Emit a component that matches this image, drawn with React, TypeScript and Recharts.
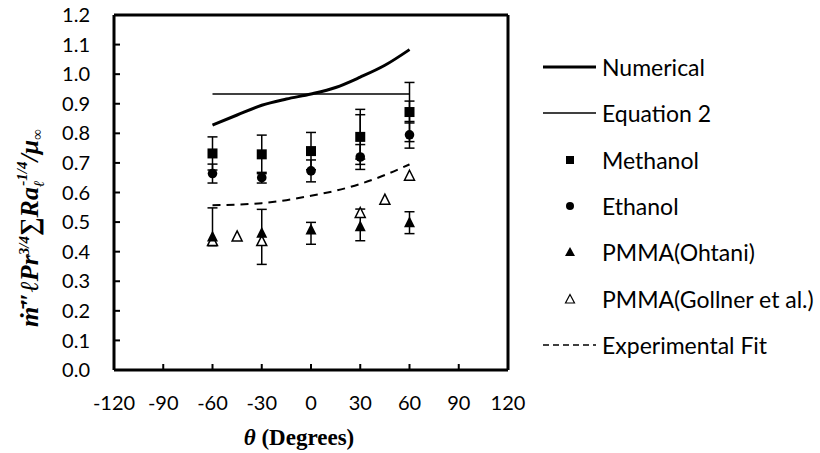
import React from "react";
import {
  ComposedChart,
  Line,
  Scatter,
  XAxis,
  YAxis,
  ErrorBar,
  ReferenceLine,
} from "recharts";

// angles (degrees)
const thetaExp = [-60, -30, 0, 30, 60];
const thetaCurve = [-60, -45, -30, -15, 0, 15, 30, 45, 60];
const thetaGollner = [-60, -45, -30, 30, 45, 60];
const thetaEq2 = [-60, 60];

// series values
const numerical = [0.828, 0.862, 0.895, 0.916, 0.933, 0.955, 0.99, 1.03, 1.083];
const equation2 = [0.933, 0.933];
const expFit = [0.557, 0.559, 0.564, 0.574, 0.589, 0.606, 0.629, 0.659, 0.695];

const methanol = [0.732, 0.729, 0.74, 0.788, 0.872];
const methanolErr = [0.056, 0.065, 0.063, 0.093, 0.1];
const methanolErrInner = [0, 0, 0, 0.075, 0.037];

const ethanol = [0.664, 0.65, 0.673, 0.72, 0.795];
const ethanolErr = [0.032, 0.018, 0.037, 0.042, 0.045];

const ohtani = [0.45, 0.462, 0.473, 0.484, 0.498];
const ohtaniErr: [number, number][] = [
  [0.03, 0.098],
  [0.105, 0.081],
  [0.048, 0.026],
  [0.047, 0.06],
  [0.037, 0.037],
];

const gollner = [0.434, 0.45, 0.434, 0.529, 0.574, 0.655];

// axis ticks
const xTicks = [-120, -90, -60, -30, 0, 30, 60, 90, 120];
const yTicks = [0, 0.1, 0.2, 0.3, 0.4, 0.5, 0.6, 0.7, 0.8, 0.9, 1.0, 1.1, 1.2];

const legendItems = [
  { name: "Numerical", kind: "line" },
  { name: "Equation 2", kind: "thin" },
  { name: "Methanol", kind: "square" },
  { name: "Ethanol", kind: "circle" },
  { name: "PMMA(Ohtani)", kind: "tri" },
  { name: "PMMA(Gollner et al.)", kind: "openTri" },
  { name: "Experimental Fit", kind: "dash" },
];

if (typeof document !== "undefined") document.body.style.margin = "0";

const zip = (xs: number[], ys: number[]) => xs.map((x, i) => ({ x, y: ys[i] }));

const numericalData = zip(thetaCurve, numerical);
const eq2Data = zip(thetaEq2, equation2);
const fitData = zip(thetaCurve, expFit);
const methanolData = thetaExp.map((x, i) => ({
  x,
  y: methanol[i],
  err: methanolErr[i],
  err2: methanolErrInner[i],
}));
const ethanolData = thetaExp.map((x, i) => ({ x, y: ethanol[i], err: ethanolErr[i] }));
const ohtaniData = thetaExp.map((x, i) => ({ x, y: ohtani[i], err: ohtaniErr[i] }));
const gollnerData = zip(thetaGollner, gollner);

const tickFont = "Lato, 'Open Sans', sans-serif";
const serif = "'Liberation Serif', 'Times New Roman', serif";

const SquareShape = (p: any) => (
  <rect x={p.cx - 5} y={p.cy - 5} width={10} height={10} fill="#000" />
);
const CircleShape = (p: any) => <circle cx={p.cx} cy={p.cy} r={4.8} fill="#000" />;
const TriShape = (p: any) => (
  <polygon
    points={`${p.cx},${p.cy - 6.5} ${p.cx + 5.5},${p.cy + 4.5} ${p.cx - 5.5},${p.cy + 4.5}`}
    fill="#000"
  />
);
const OpenTriShape = (p: any) => (
  <polygon
    points={`${p.cx},${p.cy - 6} ${p.cx + 5},${p.cy + 4} ${p.cx - 5},${p.cy + 4}`}
    fill="#fff"
    stroke="#000"
    strokeWidth={1.5}
  />
);

function YTitle() {
  return (
    <text
      transform="translate(38,228) rotate(-90)"
      textAnchor="middle"
      fontFamily={serif}
      fontWeight="bold"
      fontStyle="italic"
      fontSize={26}
      fill="#000"
    >
      <tspan>{"\u1E41\u0304\u2033\u2113Pr"}</tspan>
      <tspan dy={-9} fontSize={15}>3/4</tspan>
      <tspan dy={9} fontStyle="normal">{"\u2211"}</tspan>
      <tspan>Ra</tspan>
      <tspan dy={6} fontSize={15}>{"\u2113"}</tspan>
      <tspan dx={-5} dy={-17} fontSize={15}>-1/4</tspan>
      <tspan dy={11}>{"/\u03BC"}</tspan>
      <tspan dy={4} fontSize={15}>{"\u221E"}</tspan>
    </text>
  );
}

function LegendMark({ kind }: { kind: string }) {
  return (
    <svg width={54} height={20}>
      {kind === "line" && <line x1={0} x2={53} y1={10} y2={10} stroke="#000" strokeWidth={3} />}
      {kind === "thin" && <line x1={0} x2={53} y1={10} y2={10} stroke="#000" strokeWidth={1.5} />}
      {kind === "dash" && (
        <line x1={0} x2={53} y1={10} y2={10} stroke="#000" strokeWidth={1.5} strokeDasharray="6 4" />
      )}
      {kind === "square" && <rect x={23} y={6} width={8} height={8} fill="#000" />}
      {kind === "circle" && <circle cx={27} cy={10} r={4} fill="#000" />}
      {kind === "tri" && <polygon points="27,5 32,14 22,14" fill="#000" />}
      {kind === "openTri" && (
        <polygon points="27,5.5 31.5,14 22.5,14" fill="#fff" stroke="#000" strokeWidth={1.2} />
      )}
    </svg>
  );
}

export default function App() {
  return (
    <div
      style={{ position: "relative", width: 820, height: 453, background: "#fff", overflow: "hidden" }}
    >
      <ComposedChart
        width={820}
        height={453}
        margin={{ top: 15, right: 312, bottom: 53, left: 54 }}
      >
        <XAxis
          type="number"
          dataKey="x"
          domain={[-120, 120]}
          ticks={xTicks}
          interval={0}
          axisLine={{ stroke: "#000", strokeWidth: 3 }}
          tickLine={{ stroke: "#000", strokeWidth: 2 }}
          tickSize={-6}
          tickMargin={32}
          height={30}
          tick={{ fontSize: 20, fill: "#000", fontFamily: tickFont }}
          allowDataOverflow
        />
        <YAxis
          type="number"
          dataKey="y"
          domain={[0, 1.2]}
          ticks={yTicks}
          interval={0}
          width={60}
          axisLine={{ stroke: "#000", strokeWidth: 3 }}
          tickLine={{ stroke: "#000", strokeWidth: 2 }}
          tickSize={-6}
          tickMargin={30}
          tickFormatter={(v: number) => v.toFixed(1)}
          tick={{ fontSize: 20, fill: "#000", fontFamily: tickFont }}
          allowDataOverflow
        />
        <ReferenceLine y={1.2} stroke="#000" strokeWidth={3} />
        <ReferenceLine x={120} stroke="#000" strokeWidth={3} />

        <Line
          data={numericalData}
          dataKey="y"
          type="monotone"
          stroke="#000"
          strokeWidth={3}
          dot={false}
          isAnimationActive={false}
        />
        <Line
          data={eq2Data}
          dataKey="y"
          type="linear"
          stroke="#000"
          strokeWidth={1.5}
          dot={false}
          isAnimationActive={false}
        />
        <Line
          data={fitData}
          dataKey="y"
          type="monotone"
          stroke="#000"
          strokeWidth={2}
          strokeDasharray="8 6"
          dot={false}
          isAnimationActive={false}
        />

        <Scatter data={gollnerData} dataKey="y" shape={OpenTriShape} isAnimationActive={false} />
        <Scatter data={methanolData} dataKey="y" shape={SquareShape} isAnimationActive={false}>
          <ErrorBar dataKey="err" direction="y" width={5} stroke="#000" strokeWidth={1.5} />
          <ErrorBar dataKey="err2" direction="y" width={5} stroke="#000" strokeWidth={1.5} />
        </Scatter>
        <Scatter data={ethanolData} dataKey="y" shape={CircleShape} isAnimationActive={false}>
          <ErrorBar dataKey="err" direction="y" width={5} stroke="#000" strokeWidth={1.5} />
        </Scatter>
        <Scatter data={ohtaniData} dataKey="y" shape={TriShape} isAnimationActive={false}>
          <ErrorBar dataKey="err" direction="y" width={5} stroke="#000" strokeWidth={1.5} />
        </Scatter>
      </ComposedChart>

      <svg
        width={820}
        height={453}
        style={{ position: "absolute", left: 0, top: 0, pointerEvents: "none" }}
      >
        <YTitle />
        <text x={299} y={445} textAnchor="middle" fontFamily={serif} fontWeight="bold" fontSize={23} fill="#000">
          <tspan fontStyle="italic">θ</tspan>
          <tspan> (Degrees)</tspan>
        </text>
      </svg>

      <div style={{ position: "absolute", left: 543, top: 44, fontFamily: tickFont }}>
        {legendItems.map((it) => (
          <div
            key={it.name}
            style={{ height: 46.3, display: "flex", alignItems: "center", fontSize: 23, color: "#000" }}
          >
            <LegendMark kind={it.kind} />
            <span style={{ marginLeft: 5, whiteSpace: "nowrap" }}>{it.name}</span>
          </div>
        ))}
      </div>
    </div>
  );
}
